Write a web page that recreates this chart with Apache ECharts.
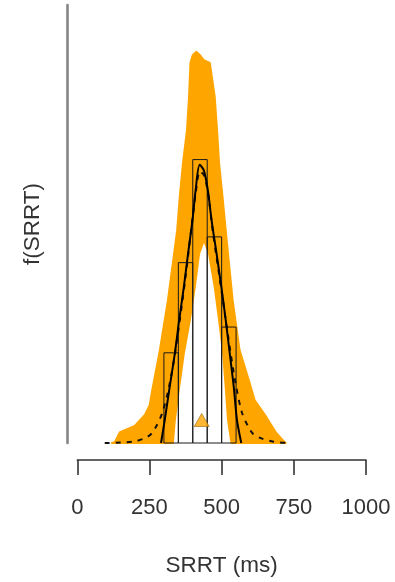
<!DOCTYPE html>
<html>
<head>
<meta charset="utf-8">
<script src="https://cdn.jsdelivr.net/npm/echarts@6/dist/echarts.min.js"></script>
<style>
  html, body { margin: 0; padding: 0; background: #ffffff; }
  #chart { width: 395px; height: 582px; }
</style>
</head>
<body>
<div id="chart"></div>
<script>
// Histogram of observed SRRT (ms): bin edges and counts
const binEdges = [300, 350, 400, 450, 500, 550];
const binCounts = [7, 14, 22, 16, 9];

// Posterior predictive densities: upper and lower envelope of the drawn curves [ms, density]
const upperEnvelope = [
  [120, 0], [130, 0.00002], [148, 0.00025], [199, 0.00039], [234, 0.00064],
  [251, 0.00087], [258, 0.00115], [286, 0.00212], [314, 0.00326], [346, 0.00486],
  [355, 0.00562], [366, 0.00639], [380, 0.00715], [387, 0.0079], [392, 0.00868],
  [400, 0.00886], [413, 0.00893], [424, 0.00886], [438, 0.00874], [459, 0.00868],
  [476, 0.0079], [484, 0.00715], [491, 0.00639], [503, 0.00562], [514, 0.00486],
  [538, 0.00326], [562, 0.00212], [597, 0.00137], [614, 0.00098], [655, 0.00059],
  [689, 0.00023], [718, 0.00002], [722, 0]
];
const lowerEnvelope = [
  [331, 0], [338, 0.00053], [353, 0.00128], [369, 0.00205], [390, 0.00281],
  [407, 0.00356], [422, 0.00433], [439, 0.00463], [456, 0.00433], [476, 0.00356],
  [491, 0.00281], [505, 0.00205], [514, 0.00128], [522, 0.00053], [534, 0]
];

// Kernel density of the observed data (solid)
const observedDensity = [
  [290, 0], [303, 0.00053], [320, 0.00128], [338, 0.00205], [353, 0.00281],
  [369, 0.00356], [384, 0.00434], [399, 0.00509], [410, 0.00578], [424, 0.00635],
  [438, 0.00623], [452, 0.00578], [465, 0.00509], [482, 0.00434], [499, 0.00356],
  [514, 0.00281], [528, 0.00205], [542, 0.00128], [553, 0.00053], [568, 0]
];

// Mean posterior predictive density (dashed)
const predictedDensity = [
  [95, 0], [150, 0.00001], [200, 0.00004], [230, 0.0001], [255, 0.0002],
  [275, 0.0004], [295, 0.0007], [315, 0.0012], [335, 0.0019], [355, 0.0028],
  [375, 0.0038], [395, 0.0049], [410, 0.0057], [425, 0.0062], [440, 0.0061],
  [455, 0.0056], [470, 0.0048], [490, 0.0039], [510, 0.003], [530, 0.0021],
  [550, 0.0013], [570, 0.0007], [590, 0.0004], [610, 0.0002], [640, 0.0001],
  [680, 0.00003], [730, 0]
];

// Observed mean marker
const meanMarker = [[431, 0.000525]];

const xTicks = [0, 250, 500, 750, 1000];

const nObs = binCounts.reduce((a, b) => a + b, 0);
const histData = binCounts.map((c, i) => {
  const w = binEdges[i + 1] - binEdges[i];
  return [binEdges[i], binEdges[i + 1], c / (nObs * w)];
});

const chart = echarts.init(document.getElementById('chart'), null, { renderer: 'canvas' });
const font = '"Liberation Sans", Arial, Helvetica, sans-serif';

chart.setOption({
  animation: false,
  backgroundColor: '#ffffff',
  grid: { left: 77.3, right: 29, top: 5, bottom: 139, containLabel: false },
  xAxis: {
    type: 'value', min: xTicks[0], max: xTicks[xTicks.length - 1], interval: 250,
    offset: 17,
    name: 'SRRT (ms)', nameLocation: 'middle', nameGap: 94,
    nameTextStyle: { fontFamily: font, fontSize: 22.5, color: '#333' },
    axisLine: { show: true, onZero: false, lineStyle: { color: '#333', width: 1.6 } },
    axisTick: { show: true, length: 15, lineStyle: { color: '#333', width: 1.6 } },
    axisLabel: { margin: 37, fontFamily: font, fontSize: 22, color: '#333',
                 formatter: v => String(v) },
    splitLine: { show: false }
  },
  yAxis: {
    type: 'value', min: 0, max: 0.01,
    offset: 10,
    name: 'f(SRRT)', nameLocation: 'middle', nameGap: 23, nameRotate: 90,
    nameTextStyle: { fontFamily: font, fontSize: 22.5, color: '#333' },
    axisLine: { show: true, onZero: false, lineStyle: { color: '#858585', width: 2.6 } },
    axisTick: { show: false },
    axisLabel: { show: false },
    splitLine: { show: false }
  },
  series: [
    {
      // orange band covered by the posterior predictive curves
      type: 'custom',
      data: [[0, 0]],
      encode: { x: 0, y: 1 },
      silent: true,
      z: 1,
      renderItem: function (params, api) {
        const pts = upperEnvelope.map(p => api.coord(p))
          .concat(lowerEnvelope.slice().reverse().map(p => api.coord(p)));
        return {
          type: 'polygon',
          shape: { points: pts },
          style: { fill: '#FFA500', stroke: '#FFA500', lineWidth: 2, lineJoin: 'round' }
        };
      }
    },
    {
      // histogram bars (outline only)
      type: 'custom',
      data: histData,
      encode: { x: [0, 1], y: 2 },
      silent: true,
      z: 3,
      renderItem: function (params, api) {
        const tl = api.coord([api.value(0), api.value(2)]);
        const br = api.coord([api.value(1), 0]);
        return {
          type: 'rect',
          shape: { x: tl[0], y: tl[1], width: br[0] - tl[0], height: br[1] - tl[1] },
          style: { fill: 'none', stroke: '#1a1a1a', lineWidth: 1 }
        };
      }
    },
    {
      type: 'line', data: predictedDensity, showSymbol: false, smooth: 0.3,
      z: 4, silent: true,
      lineStyle: { color: '#111', width: 2, type: [5, 6] }
    },
    {
      type: 'line', data: observedDensity, showSymbol: false, smooth: 0.3,
      z: 5, silent: true,
      lineStyle: { color: '#000', width: 2 }
    },
    {
      type: 'scatter', data: meanMarker, symbol: 'triangle', symbolSize: [15, 13],
      z: 6, silent: true,
      itemStyle: { color: '#FFA500', borderColor: '#9a6a10', borderWidth: 0.8 }
    }
  ]
});
</script>
</body>
</html>
